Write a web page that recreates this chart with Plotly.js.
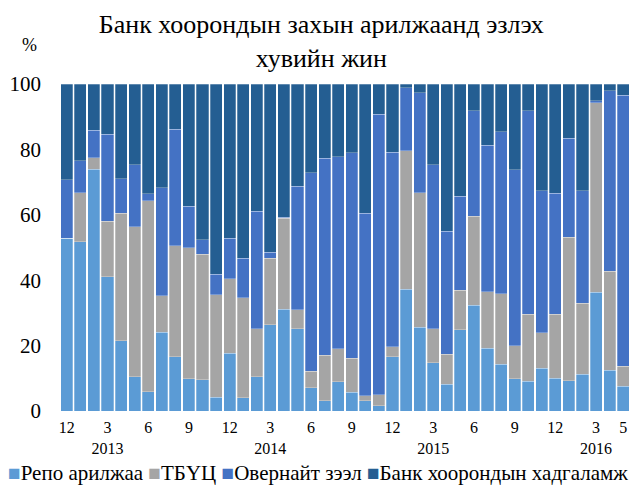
<!DOCTYPE html>
<html>
<head>
<meta charset="utf-8">
<script src="https://cdn.plot.ly/plotly-3.0.1.min.js"></script>
<style>html,body{margin:0;padding:0;background:#fff;}#chart{width:630px;height:485px;}</style>
</head>
<body>
<div id="chart"></div>
<script>
var categories = ["2012-12","2013-01","2013-02","2013-03","2013-04","2013-05","2013-06","2013-07","2013-08","2013-09","2013-10","2013-11",
  "2013-12","2014-01","2014-02","2014-03","2014-04","2014-05","2014-06","2014-07","2014-08","2014-09","2014-10","2014-11",
  "2014-12","2015-01","2015-02","2015-03","2015-04","2015-05","2015-06","2015-07","2015-08","2015-09","2015-10","2015-11",
  "2015-12","2016-01","2016-02","2016-03","2016-04","2016-05"];

var repo = [52.9,51.8,74.0,41.1,21.5,10.5,5.9,24.1,16.6,9.9,9.6,4.2,
  17.6,4.1,10.5,26.4,31.1,25.1,7.1,3.1,9.0,5.7,3.2,1.6,
  16.6,37.2,25.6,14.8,8.2,24.9,32.3,19.2,14.3,9.9,9.1,13.1,
  10.0,9.3,11.2,36.3,12.4,7.6];
var tbuc = [0,15.0,3.4,17.0,38.9,45.9,58.4,11.1,34.0,40.1,38.4,31.3,
  22.9,30.5,14.6,20.3,27.8,5.8,5.1,14.0,10.1,10.5,1.4,3.3,
  3.1,42.4,41.1,10.3,9.2,12.0,27.3,17.3,21.6,10.0,20.5,10.9,
  19.6,43.9,21.7,58.0,30.3,6.1];
var overnight = [17.8,9.7,8.4,26.6,10.6,18.9,2.2,33.0,35.6,12.6,4.3,6.3,
  12.4,12.1,36.0,1.9,0.3,37.9,60.6,60.2,58.7,62.8,55.9,85.9,
  59.5,19.2,30.6,50.2,37.6,28.8,32.2,44.8,49.5,53.9,62.2,43.3,
  37.0,30.2,34.4,0.6,55.3,82.8];
var deposit = [29.3,23.5,14.2,15.3,29.0,24.7,33.5,31.8,13.8,37.4,47.7,58.2,
  47.1,53.3,38.9,51.4,40.8,31.2,27.2,22.7,22.2,21.0,39.5,9.2,
  20.8,1.2,2.7,24.7,45.0,34.3,8.2,18.7,14.6,26.2,8.2,32.7,
  33.4,16.6,32.7,5.1,2.0,3.5];

var seriesNames = ["Репо арилжаа","ТБҮЦ","Овернайт зээл","Банк хоорондын хадгаламж"];
var colors = ["#5B9BD5","#A5A5A5","#4472C4","#245E92"];

var tickCats = ["2012-12","2013-03","2013-06","2013-09","2013-12","2014-03","2014-06","2014-09","2014-12","2015-03","2015-06","2015-09","2015-12","2016-03","2016-05"];
var tickLabels = ["12","3<br>2013","6","9","12","3<br>2014","6","9","12","3<br>2015","6","9","12","3<br>2016","5"];

var values = [repo, tbuc, overnight, deposit];
var traces = values.map(function(v, i){
  return {
    type: 'bar', x: categories, y: v, name: seriesNames[i],
    marker: {color: colors[i], line: {color: 'rgba(255,255,255,0.45)', width: 0.6}},
    hoverinfo: 'y', showlegend: false
  };
});

// Legend line built from the series names and colours
var legendText = seriesNames.map(function(n, i){
  return '<span style="color:' + colors[i] + '">■</span>' + n;
}).join(' ');

var font = "Liberation Serif";
var layout = {
  width: 630, height: 485,
  barmode: 'stack', bargap: 0.115,
  margin: {l: 60, r: 0, t: 84, b: 74},
  paper_bgcolor: '#fff', plot_bgcolor: '#fff',
  font: {family: font, color: '#000', size: 16},
  title: {text: 'Банк хоорондын захын арилжаанд эзлэх<br>хувийн жин', x: 0.51, xanchor: 'center',
    yref: 'container', y: 0.932, yanchor: 'middle', font: {family: font, size: 26, color: '#000'}},
  xaxis: {type: 'category', tickmode: 'array', tickvals: tickCats, ticktext: tickLabels,
    showgrid: false, showline: false, ticks: '', zeroline: false, tickangle: 0, ticklabelstandoff: 5,
    tickfont: {family: font, size: 16, color: '#000'}},
  yaxis: {range: [0, 100], tickvals: [0,20,40,60,80,100], showgrid: false, showline: false,
    ticks: '', zeroline: false, ticklabelstandoff: 18,
    tickfont: {family: font, size: 21, color: '#000'}},
  showlegend: false,
  annotations: [
    {text: '%', xref: 'paper', yref: 'paper', x: -0.053, y: 1.12, showarrow: false,
      xanchor: 'center', yanchor: 'middle', font: {family: font, size: 18, color: '#000'}},
    {text: legendText, xref: 'paper', yref: 'paper', x: 0.452, y: -0.19, showarrow: false,
      xanchor: 'center', yanchor: 'middle', font: {family: font, size: 21, color: '#000'}}
  ]
};

Plotly.newPlot('chart', traces, layout, {displayModeBar: false, staticPlot: true});
</script>
</body>
</html>
